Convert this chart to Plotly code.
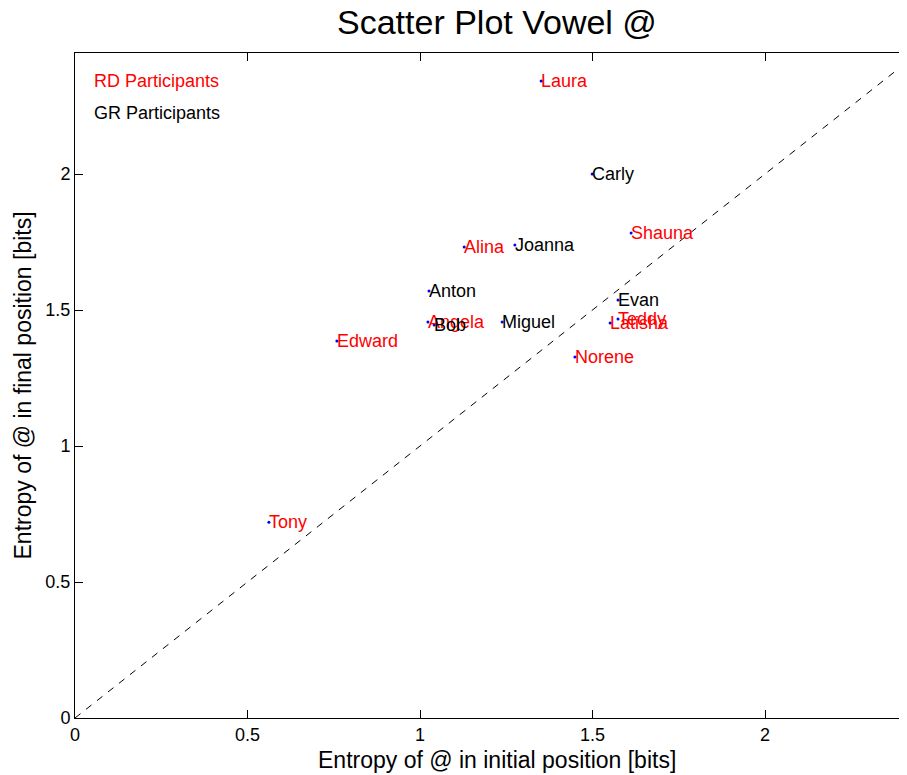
import plotly.graph_objects as go

# Data
rd_names = ["Laura", "Shauna", "Alina", "Angela", "Teddy", "Latisha", "Edward", "Norene", "Tony"]
rd_x = [1.351, 1.612, 1.128, 1.023, 1.574, 1.551, 0.759, 1.449, 0.562]
rd_y = [2.342, 1.783, 1.732, 1.456, 1.467, 1.452, 1.386, 1.327, 0.720]

gr_names = ["Carly", "Joanna", "Anton", "Evan", "Bob", "Miguel"]
gr_x = [1.499, 1.275, 1.026, 1.574, 1.041, 1.238]
gr_y = [2.000, 1.739, 1.570, 1.537, 1.445, 1.456]

diag = [0, 2.45]
tick_vals = [0, 0.5, 1, 1.5, 2]
tick_text = ["0", "0.5", "1", "1.5", "2"]

FONT = "Liberation Sans, Arial, sans-serif"

# plot area geometry (pixels)
PW, PH = 832, 665

fig = go.Figure()

fig.add_trace(go.Scatter(x=diag, y=diag, mode="lines",
                         line=dict(color="black", width=1, dash="7px,7px"),
                         hoverinfo="skip", showlegend=False))

fig.add_trace(go.Scatter(x=rd_x + gr_x, y=rd_y + gr_y, mode="markers",
                         marker=dict(color="blue", size=3),
                         showlegend=False))

annotations = []
for names, xs, ys, col in [(rd_names, rd_x, rd_y, "red"), (gr_names, gr_x, gr_y, "black")]:
    for n, x, y in zip(names, xs, ys):
        annotations.append(dict(x=x, y=y, xref="x", yref="y", text=n, showarrow=False,
                                xanchor="left", yanchor="middle", xshift=-2,
                                font=dict(family=FONT, size=18, color=col)))

annotations += [
    dict(x=17 / PW, y=1 - 28 / PH, xref="paper", yref="paper", text="RD Participants",
         showarrow=False, xanchor="left", yanchor="middle",
         font=dict(family=FONT, size=18, color="red")),
    dict(x=17 / PW, y=1 - 60 / PH, xref="paper", yref="paper", text="GR Participants",
         showarrow=False, xanchor="left", yanchor="middle",
         font=dict(family=FONT, size=18, color="black")),
    dict(x=(497 - 75) / PW, y=-42 / PH, xref="paper", yref="paper",
         text="Entropy of @ in initial position [bits]", showarrow=False,
         xanchor="center", yanchor="middle", font=dict(family=FONT, size=23, color="black")),
    dict(x=-53 / PW, y=0.5, xref="paper", yref="paper",
         text="Entropy of @ in final position [bits]", showarrow=False, textangle=-90,
         xanchor="center", yanchor="middle", font=dict(family=FONT, size=23, color="black")),
    dict(x=(497 - 75) / PW, y=1 + 31 / PH, xref="paper", yref="paper",
         text="Scatter Plot Vowel @", showarrow=False,
         xanchor="center", yanchor="middle", font=dict(family=FONT, size=34, color="black")),
]

fig.update_layout(
    width=899, height=767,
    margin=dict(l=67, r=0, t=45, b=57),
    plot_bgcolor="white", paper_bgcolor="white",
    annotations=annotations,
    font=dict(family=FONT, size=18, color="black"),
    xaxis=dict(range=[0, PW / 345], tickvals=tick_vals, ticktext=tick_text,
               showgrid=False, zeroline=False, showline=True, linecolor="black", linewidth=1,
               mirror="ticks", ticks="inside", ticklen=8, tickcolor="black",
               tickfont=dict(family=FONT, size=18)),
    yaxis=dict(range=[0, PH / 272], tickvals=tick_vals, ticktext=tick_text,
               showgrid=False, zeroline=False, showline=True, linecolor="black", linewidth=1,
               ticks="inside", ticklen=8, tickcolor="black",
               tickfont=dict(family=FONT, size=18)),
)

fig.write_html("out.html")
